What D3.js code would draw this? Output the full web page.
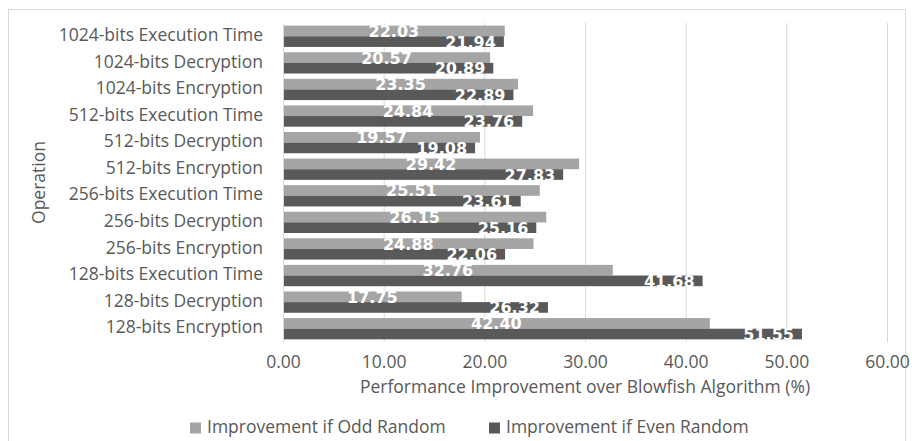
<!DOCTYPE html>
<html>
<head>
<meta charset="utf-8">
<script src="https://cdn.jsdelivr.net/npm/d3@7"></script>
<style>
  html, body { margin: 0; padding: 0; background: #fff; }
  svg { display: block; }
  text { font-family: "Open Sans", "Noto Sans", sans-serif; fill: #595959; }
  .val { font-family: "DejaVu Sans", sans-serif; font-weight: bold; fill: #fff; font-size: 16px; }
</style>
</head>
<body>
<svg id="chart" width="912" height="441"></svg>
<script>
// Operations, listed top to bottom as shown on the category axis
const categories = [
  "1024-bits Execution Time",
  "1024-bits Decryption",
  "1024-bits Encryption",
  "512-bits Execution Time",
  "512-bits Decryption",
  "512-bits Encryption",
  "256-bits Execution Time",
  "256-bits Decryption",
  "256-bits Encryption",
  "128-bits Execution Time",
  "128-bits Decryption",
  "128-bits Encryption"
];
const seriesNames = ["Improvement if Odd Random", "Improvement if Even Random"];
const oddValues  = [22.03, 20.57, 23.35, 24.84, 19.57, 29.42, 25.51, 26.15, 24.88, 32.76, 17.75, 42.40];
const evenValues = [21.94, 20.89, 22.89, 23.76, 19.08, 27.83, 23.61, 25.16, 22.06, 41.68, 26.32, 51.55];
const xTicks = [0, 10, 20, 30, 40, 50, 60];
const colors = ["#a5a5a5", "#595959"];

const FS = "17.5px";
const svg = d3.select("#chart");
const plot = { left: 283, right: 887, top: 23, bottom: 342 };

// outer chart border
svg.append("rect")
  .attr("x", 8.5).attr("y", 9.5).attr("width", 897).attr("height", 440)
  .attr("fill", "none").attr("stroke", "#d9d9d9");

const x = d3.scaleLinear().domain([0, 60]).range([plot.left, plot.right]);
const y = d3.scaleBand().domain(categories).range([plot.top, plot.bottom])
  .paddingInner(0.2).paddingOuter(0.1);
const sub = d3.scaleBand().domain([0, 1]).range([0, y.bandwidth()]);

// vertical gridlines
svg.append("g").selectAll("line").data(xTicks.slice(1)).join("line")
  .attr("x1", d => x(d) + 0.5).attr("x2", d => x(d) + 0.5)
  .attr("y1", plot.top).attr("y2", plot.bottom)
  .attr("stroke", "#d9d9d9").attr("stroke-width", 1);

// x axis tick labels
const xAxis = d3.axisBottom(x).tickValues(xTicks).tickSize(0).tickPadding(0)
  .tickFormat(d3.format(".2f"));
const gx = svg.append("g").attr("transform", `translate(0,${plot.bottom})`).call(xAxis);
gx.select(".domain").remove();
gx.selectAll("text").attr("dy", null).attr("y", 21)
  .attr("dominant-baseline", "middle")
  .style("font-size", FS).attr("fill", "#595959");

// category axis
const yAxis = d3.axisLeft(y).tickSize(0).tickPadding(20);
const gy = svg.append("g").attr("transform", `translate(${plot.left},0)`).call(yAxis);
gy.select(".domain").attr("stroke", "#d9d9d9");
gy.selectAll("text").attr("dy", null).attr("dominant-baseline", "middle")
  .style("font-size", FS).attr("fill", "#595959");

// bars
const rows = categories.map((c, i) => ({ c, vals: [oddValues[i], evenValues[i]] }));
const groups = svg.append("g").selectAll("g").data(rows).join("g")
  .attr("transform", d => `translate(0,${y(d.c)})`);

groups.selectAll("rect").data(d => d.vals.map((v, s) => ({ v, s }))).join("rect")
  .attr("x", x(0) + 1)
  .attr("y", d => sub(d.s))
  .attr("width", d => x(d.v) - x(0) - 1)
  .attr("height", sub.bandwidth())
  .attr("fill", d => colors[d.s]);

// value labels: odd series centred, even series at the inside end
groups.selectAll("text.val").data(d => d.vals.map((v, s) => ({ v, s }))).join("text")
  .attr("class", "val")
  .attr("x", d => d.s === 0 ? (x(0) + x(d.v)) / 2 : x(d.v) - 8)
  .attr("y", d => sub(d.s) + sub.bandwidth() / 2 + 1.5)
  .attr("text-anchor", d => d.s === 0 ? "middle" : "end")
  .attr("dominant-baseline", "middle")
  .text(d => d.v.toFixed(2));

// axis titles
svg.append("text")
  .attr("x", (plot.left + plot.right) / 2).attr("y", 388)
  .attr("text-anchor", "middle").attr("dominant-baseline", "middle")
  .style("font-size", FS)
  .text("Performance Improvement over Blowfish Algorithm (%)");

svg.append("text")
  .attr("transform", `translate(40,${(plot.top + plot.bottom) / 2}) rotate(-90)`)
  .attr("text-anchor", "middle").attr("dominant-baseline", "middle")
  .style("font-size", FS)
  .text("Operation");

// legend
const legendX = [190, 489];
const legend = svg.append("g").selectAll("g").data(seriesNames).join("g")
  .attr("transform", (d, i) => `translate(${legendX[i]},428)`);
legend.append("rect").attr("x", 0).attr("y", -5.5).attr("width", 11).attr("height", 11)
  .attr("fill", (d, i) => colors[i]);
legend.append("text").attr("x", 17).attr("y", 0)
  .attr("dominant-baseline", "middle").style("font-size", FS)
  .text(d => d);
</script>
</body>
</html>
